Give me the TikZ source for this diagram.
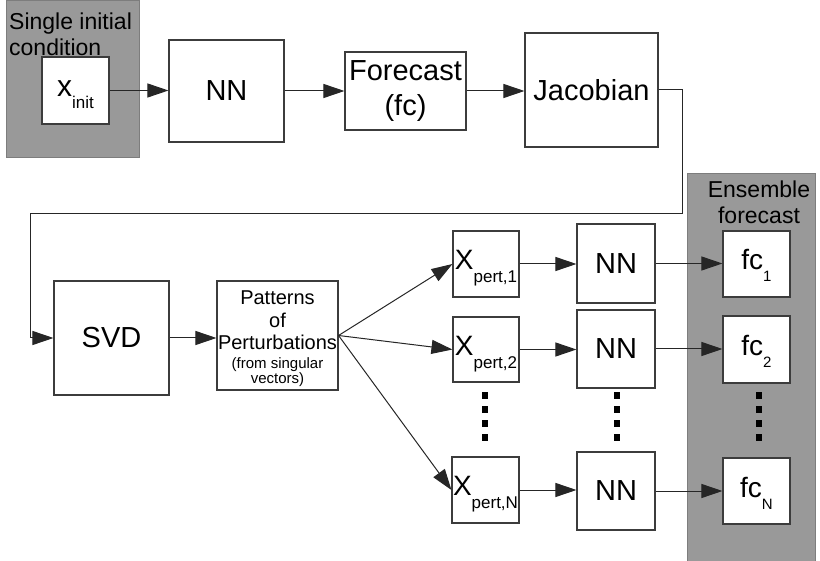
\documentclass[tikz,border=0pt]{standalone}
\usepackage{fontspec}
\setmainfont{Liberation Sans}
\usetikzlibrary{arrows.meta,calc}
\definecolor{panelgray}{RGB}{153,153,153}
\definecolor{paneledge}{RGB}{125,125,125}
\definecolor{edgecol}{RGB}{60,60,60}
\newcommand{\mysub}[3]{\raisebox{-#1}{\fontsize{#2}{#2}\selectfont #3}}
\begin{document}
\begin{tikzpicture}[x=1pt,y=-1pt,
  box/.style={draw=edgecol, line width=1.1pt, fill=white, inner sep=0pt},
  big/.style={font=\fontsize{29}{35}\selectfont},
  subbox/.style={box, text height=20pt, text depth=8pt},
  arr/.style={-{Triangle[length=21pt,width=14pt]}, line width=1pt, draw=black!85},
  panelbox/.style={fill=panelgray, draw=paneledge, line width=1pt, inner sep=0pt},
  lbl/.style={inner sep=0pt, font=\fontsize{23}{26}\selectfont},
  dotcol/.style={line width=6.5pt, dash pattern=on 7pt off 7pt, draw=black}]
\useasboundingbox (0,0) rectangle (820,561);
% panels
\node[panelbox, minimum width=133pt, minimum height=157pt] (g1) at (72.5,79.5) {};
\node[panelbox, minimum width=128pt, minimum height=392pt] (g2) at (751,370) {};
\node[lbl, anchor=north west, align=left] (g1lbl) at (9,12.2) {Single initial\\condition};
\node[lbl, anchor=north, align=center] (g2lbl) at (759,180.2) {Ensemble\\forecast};
% top row
\node[subbox, minimum width=67pt, minimum height=67pt, font=\fontsize{30}{30}\selectfont] (xinit) at (75.5,90.5) {x\mysub{12pt}{17}{init}};
\node[box, big, minimum width=115pt, minimum height=102pt] (nn0) at (226.5,91) {NN};
\node[box, big, align=center, minimum width=121pt, minimum height=78pt] (fcst) at (405.5,91) {Forecast\\(fc)};
\node[box, big, minimum width=133pt, minimum height=114pt] (jac) at (591.5,90) {Jacobian};
% second part
\node[box, big, minimum width=115pt, minimum height=114pt] (svd) at (111.5,338) {SVD};
\node[box, align=center, minimum width=121pt, minimum height=109pt, font=\fontsize{20}{22.5}\selectfont] (pat) at (277.5,335.5)
  {\rule{0pt}{20.5pt}Patterns\\of\\Perturbations\\[-3.5pt]\fontsize{15}{16}\selectfont (from singular\\[-7.5pt]\fontsize{15}{16}\selectfont vectors)};
\node[subbox, minimum width=66pt, minimum height=66pt, font=\fontsize{28}{28}\selectfont] (xp1) at (486,264) {X\mysub{13pt}{17}{pert,1}};
\node[subbox, minimum width=66pt, minimum height=65pt, font=\fontsize{28}{28}\selectfont] (xp2) at (486,349.5) {X\mysub{13pt}{17}{pert,2}};
\node[subbox, minimum width=67pt, minimum height=66pt, font=\fontsize{28}{28}\selectfont] (xpn) at (485.5,490) {X\mysub{13pt}{17}{pert,N}};
\node[box, big, minimum width=78pt, minimum height=79pt] (nn1) at (616,263.5) {NN};
\node[box, big, minimum width=78pt, minimum height=78pt] (nn2) at (616,349) {NN};
\node[box, big, minimum width=78pt, minimum height=78pt] (nnn) at (616,491) {NN};
\node[subbox, minimum width=67pt, minimum height=66pt, font=\fontsize{28}{28}\selectfont] (fc1) at (756.5,264) {fc\mysub{12pt}{15}{1}};
\node[subbox, minimum width=67pt, minimum height=67pt, font=\fontsize{28}{28}\selectfont] (fc2) at (756.5,349.5) {fc\mysub{12pt}{15}{2}};
\node[subbox, minimum width=67pt, minimum height=66pt, font=\fontsize{28}{28}\selectfont] (fcn) at (756.5,491) {fc\mysub{12pt}{15}{N}};
% connectors top row
\draw[arr] (xinit.east) -- (xinit.east -| nn0.west);
\draw[arr] (nn0.east) -- (nn0.east -| fcst.west);
\draw[arr] (fcst.east) -- (fcst.east -| jac.west);
\coordinate (c1) at (682,214);
\coordinate (c2) at (30,214);
\draw[arr] (jac.east) -| (c1) -- (c2) |- (svd.west);
\draw[arr] (svd.east) -- (svd.east -| pat.west);
% fan
\draw[arr] (pat.east) -- (xp1.west);
\draw[arr] (pat.east) -- (xp2.west);
\draw[arr] (pat.east) -- (xpn.west);
% rows
\draw[arr] (xp1.east) -- (xp1.east -| nn1.west);
\draw[arr] (xp2.east) -- (xp2.east -| nn2.west);
\draw[arr] (xpn.east) -- (xpn.east -| nnn.west);
\draw[arr] (nn1.east) -- (nn1.east -| fc1.west);
\draw[arr] (nn2.east) -- (nn2.east -| fc2.west);
\draw[arr] (nnn.east) -- (nnn.east -| fcn.west);
% vertical dots
\draw[dotcol] (485,392.5) -- (485,442);
\draw[dotcol] (617,392.5) -- (617,442);
\draw[dotcol] (759,392.5) -- (759,442);
\end{tikzpicture}
\end{document}
